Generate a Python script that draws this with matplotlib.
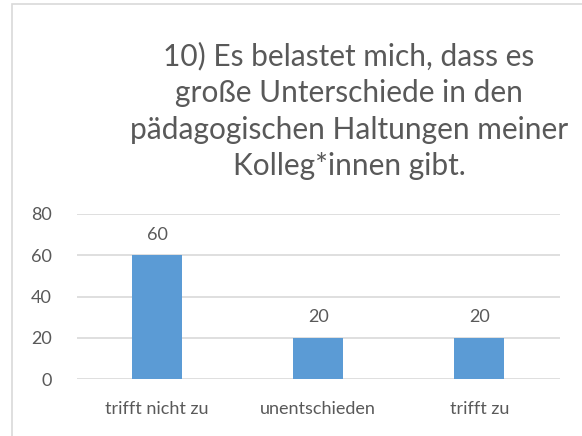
import matplotlib.pyplot as plt
from matplotlib.patches import Rectangle

categories = ["trifft nicht zu", "unentschieden", "trifft zu"]
values = [60, 20, 20]
yticks = [0, 20, 40, 60, 80]
title = ("10) Es belastet mich, dass es\ngroße Unterschiede in den\n"
         "pädagogischen Haltungen meiner\nKolleg*innen gibt.")

W, H = 582, 436
txt = "#595959"
plt.rcParams['font.family'] = ['Lato', 'DejaVu Sans']

fig = plt.figure(figsize=(W / 100, H / 100), dpi=100)
# chart border (only left and top visible in the reference)
fig.patches.append(Rectangle((12 / W, -0.1), 1.2, 1 - 4 / H + 0.1,
                             transform=fig.transFigure, fill=False,
                             edgecolor="#d9d9d9", linewidth=1.2))

ax = fig.add_axes([76.5 / W, 1 - 379 / H, (560 - 76.5) / W, (379 - 214) / H])
x = list(range(len(categories)))
bars = ax.bar(x, values, width=0.31, color="#5b9bd5", zorder=3)
ax.set_xlim(-0.5, len(categories) - 0.5)
ax.set_ylim(0, 80)
ax.set_yticks(yticks)
ax.set_xticks(x)
ax.set_xticklabels(categories)
ax.grid(axis="y", color="#d9d9d9", linewidth=1.2, zorder=0)
for s in ax.spines.values():
    s.set_visible(False)
ax.tick_params(length=0, labelsize=13, colors=txt)
ax.tick_params(axis="x", pad=16)
ax.tick_params(axis="y", pad=18)
for b, v in zip(bars, values):
    ax.annotate(str(v), (b.get_x() + b.get_width() / 2, v), xytext=(0, 9),
                textcoords="offset points", ha="center", va="bottom",
                fontsize=13, color=txt)

fig.text(349 / W, 1 - 111 / H, title, ha="center", va="center",
         fontsize=21.5, color=txt, linespacing=1.38)

fig.savefig("out.png", dpi=100)
